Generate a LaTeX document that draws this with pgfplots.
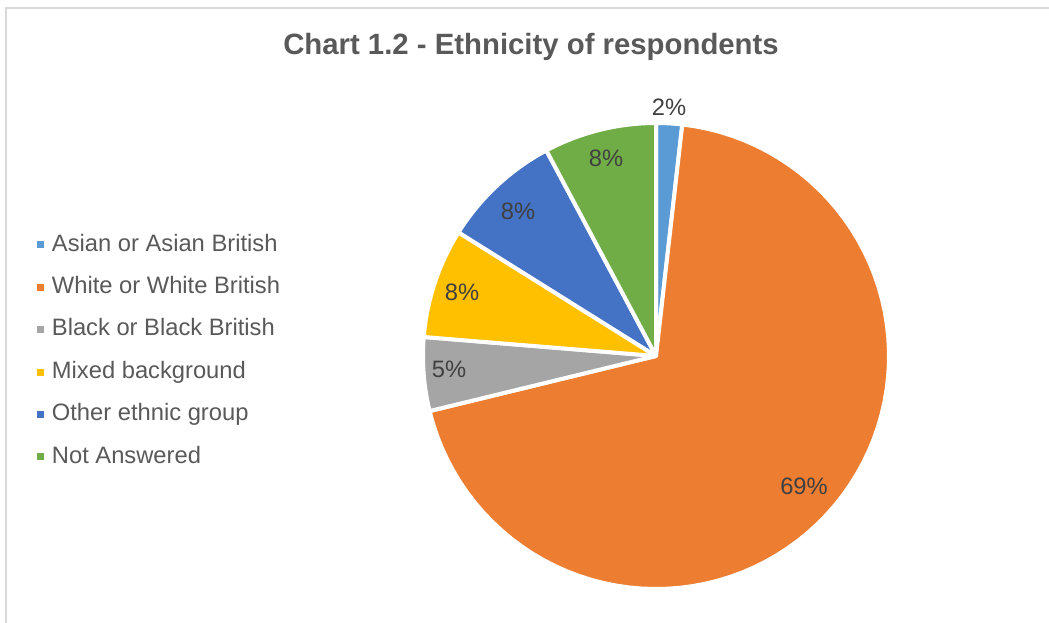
\documentclass[border=0pt]{standalone}
\usepackage{fontspec}
\setmainfont{Liberation Sans}
\usepackage{pgfplots}
\pgfplotsset{compat=1.18}
\definecolor{cA}{HTML}{5B9BD5}
\definecolor{cW}{HTML}{ED7D31}
\definecolor{cB}{HTML}{A5A5A5}
\definecolor{cM}{HTML}{FFC000}
\definecolor{cO}{HTML}{4472C4}
\definecolor{cN}{HTML}{70AD47}
\definecolor{txt}{HTML}{595959}
\definecolor{lbl}{HTML}{404040}
\definecolor{frame}{HTML}{D9D9D9}
% shares in percent
\def\vA{1.8}\def\vW{69.4}\def\vB{5.1}\def\vM{7.6}\def\vO{8.3}\def\vN{7.8}
\pgfmathsetmacro\aA{90}
\pgfmathsetmacro\aW{\aA-3.6*\vA}
\pgfmathsetmacro\aB{\aW-3.6*\vW}
\pgfmathsetmacro\aM{\aB-3.6*\vB}
\pgfmathsetmacro\aO{\aM-3.6*\vM}
\pgfmathsetmacro\aN{\aO-3.6*\vO}
\pgfmathsetmacro\aE{\aN-3.6*\vN}
\def\cx{656}\def\cy{356}\def\rr{233}
\begin{document}
\begin{tikzpicture}
\begin{axis}[
  scale only axis, width=786.75pt, height=467.25pt,
  xmin=0, xmax=1049, ymin=0, ymax=623, y dir=reverse,
  hide axis, clip=false,
  samples=80,
  legend style={at={(axis cs:37,232)}, anchor=north west, draw=none, fill=none,
    inner sep=0pt, outer sep=0pt, row sep=12.5pt, column sep=0pt,
    font=\fontsize{17.8}{21}\selectfont, text=txt,
    nodes={text height=12.8pt, text depth=3.5pt, inner sep=1.5pt},
    /tikz/every odd column/.append style={column sep=4.5pt}},
  legend cell align=left,
  legend image code/.code={\fill[#1,draw=none] (0pt,-2.6pt) rectangle (5.2pt,2.6pt);},
]
\coordinate (bl) at (axis cs:0,623);
\coordinate (tr) at (axis cs:1049,0);
\draw[frame, line width=1.5pt] (axis cs:6,623) -- (axis cs:6,8) -- (axis cs:1049,8);
\addplot[fill=cA, draw=white, line width=3pt, line join=round, domain=\aW:\aA] ({\cx+\rr*cos(x)},{\cy-\rr*sin(x)}) -- (axis cs:\cx,\cy) -- cycle;
\addlegendentry{Asian or Asian British}
\addplot[fill=cW, draw=white, line width=3pt, line join=round, domain=\aB:\aW] ({\cx+\rr*cos(x)},{\cy-\rr*sin(x)}) -- (axis cs:\cx,\cy) -- cycle;
\addlegendentry{White or White British}
\addplot[fill=cB, draw=white, line width=3pt, line join=round, domain=\aM:\aB] ({\cx+\rr*cos(x)},{\cy-\rr*sin(x)}) -- (axis cs:\cx,\cy) -- cycle;
\addlegendentry{Black or Black British}
\addplot[fill=cM, draw=white, line width=3pt, line join=round, domain=\aO:\aM] ({\cx+\rr*cos(x)},{\cy-\rr*sin(x)}) -- (axis cs:\cx,\cy) -- cycle;
\addlegendentry{Mixed background}
\addplot[fill=cO, draw=white, line width=3pt, line join=round, domain=\aN:\aO] ({\cx+\rr*cos(x)},{\cy-\rr*sin(x)}) -- (axis cs:\cx,\cy) -- cycle;
\addlegendentry{Other ethnic group}
\addplot[fill=cN, draw=white, line width=3pt, line join=round, domain=\aE:\aN] ({\cx+\rr*cos(x)},{\cy-\rr*sin(x)}) -- (axis cs:\cx,\cy) -- cycle;
\addlegendentry{Not Answered}
\node[font=\bfseries\fontsize{22}{26}\selectfont, text=txt] at (axis cs:531,47) {Chart 1.2 - Ethnicity of respondents};
\begin{scope}[every node/.style={font=\fontsize{17.8}{21}\selectfont, text=lbl}]
\node at (axis cs:669,107) {2\%};
\node at (axis cs:804,486) {69\%};
\node at (axis cs:449,369) {5\%};
\node at (axis cs:462,292) {8\%};
\node at (axis cs:518,211) {8\%};
\node at (axis cs:606,158) {8\%};
\end{scope}
\end{axis}
\pgfresetboundingbox
\path (bl) rectangle (tr);
\end{tikzpicture}
\end{document}
